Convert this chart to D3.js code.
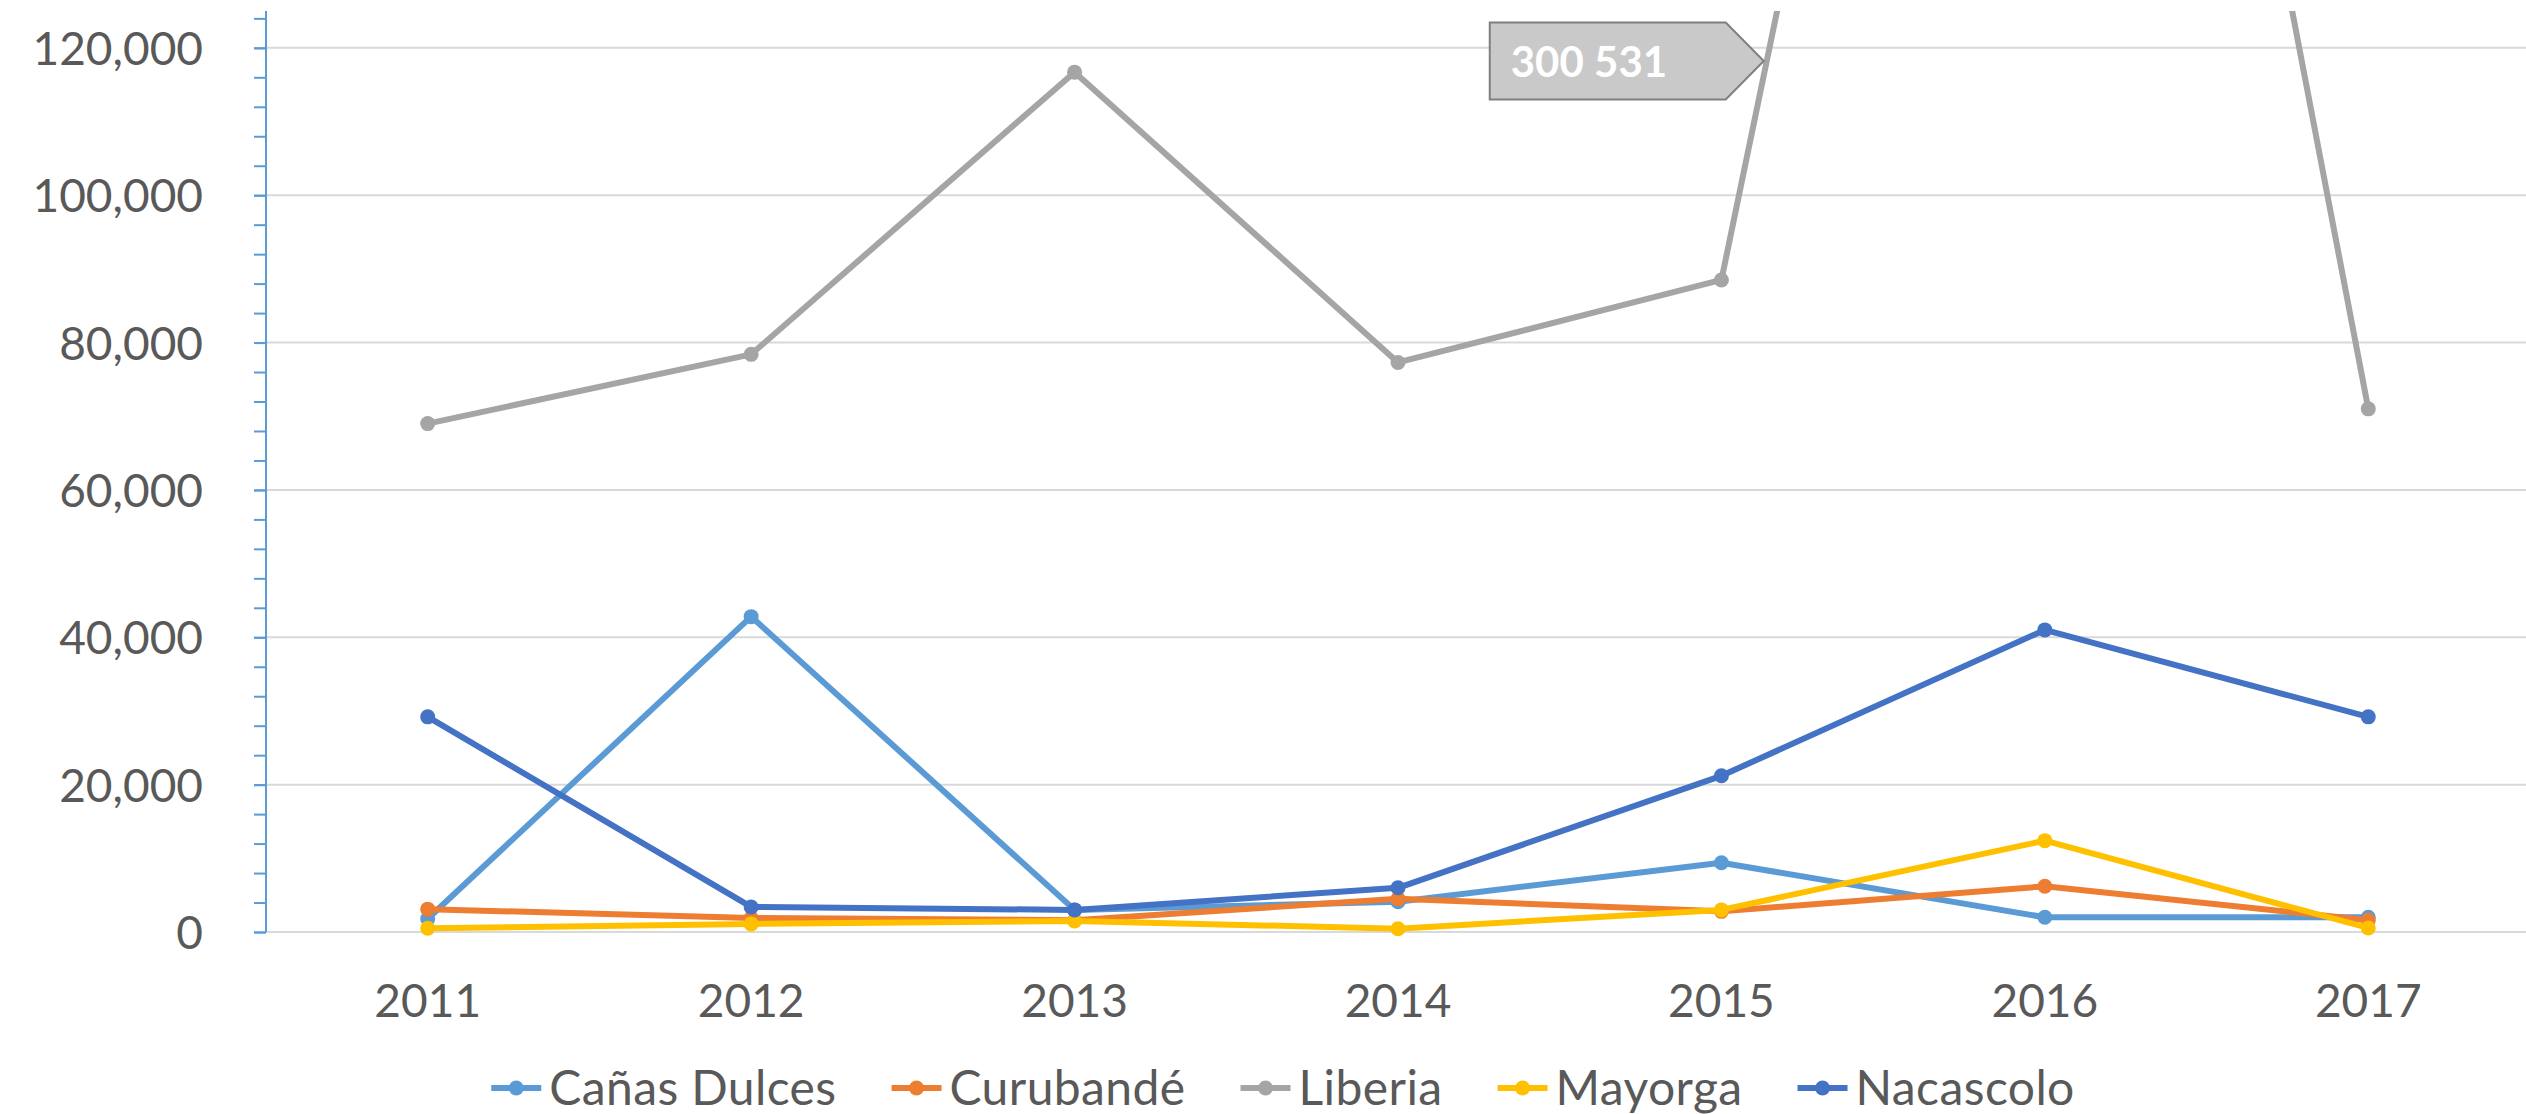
<!DOCTYPE html>
<html>
<head>
<meta charset="utf-8">
<script src="https://cdn.jsdelivr.net/npm/d3@7"></script>
<style>
  body { margin: 0; background: #fff; }
  text { font-family: Lato, "Open Sans", sans-serif; }
</style>
</head>
<body>
<script>
// Chart data
var years = ["2011", "2012", "2013", "2014", "2015", "2016", "2017"];
var seriesNames = ["Cañas Dulces", "Curubandé", "Liberia", "Mayorga", "Nacascolo"];
var canasDulces = [1800, 42800, 3000, 4100, 9400, 2000, 2000];
var curubande = [3100, 1900, 1600, 4500, 2800, 6200, 1600];
var liberia = [69000, 78400, 116700, 77300, 88500, 300531, 71000];
var mayorga = [500, 1100, 1500, 450, 3000, 12400, 550];
var nacascolo = [29200, 3400, 3000, 6000, 21200, 41000, 29200];
var yTicks = [0, 20000, 40000, 60000, 80000, 100000, 120000];
var calloutText = "300 531";

var seriesValues = [canasDulces, curubande, liberia, mayorga, nacascolo];
var seriesColors = ["#5b9bd5", "#ed7d31", "#a5a5a5", "#ffc000", "#4472c4"];

// Size of the SVG and plot area
var width = 2526,
    height = 1114;
var plot = { left: 266, right: 2530, top: 11, bottom: 932 };

var svg = d3.select("body")
    .append("svg")
    .attr("width", width)
    .attr("height", height);

// Scales
var x = d3.scalePoint()
    .domain(years)
    .range([plot.left, plot.right])
    .padding(0.5);

var y = d3.scaleLinear()
    .domain([0, 125000])
    .range([plot.bottom, plot.top]);

// Clip the lines to the plot area (Liberia 2016 goes off the top)
svg.append("clipPath")
    .attr("id", "plotClip")
  .append("rect")
    .attr("x", plot.left)
    .attr("y", plot.top)
    .attr("width", width - plot.left)
    .attr("height", plot.bottom - plot.top + 20);

// Gridlines
svg.append("g")
    .selectAll("line")
    .data(yTicks)
    .enter().append("line")
        .attr("x1", plot.left)
        .attr("x2", width)
        .attr("y1", function(d) { return y(d); })
        .attr("y2", function(d) { return y(d); })
        .attr("stroke", "#d9d9d9")
        .attr("stroke-width", 2);

// Minor ticks every 4,000
var minorAxis = svg.append("g")
    .attr("transform", "translate(" + plot.left + ",0)")
    .call(d3.axisLeft(y)
        .tickValues(d3.range(0, 125001, 4000))
        .tickSize(12)
        .tickFormat(""));
minorAxis.selectAll("line").attr("stroke", "#5b9bd5").attr("stroke-width", 2);
minorAxis.select(".domain").remove();

// Major y axis with labels
var yAxis = svg.append("g")
    .attr("transform", "translate(" + plot.left + ",0)")
    .call(d3.axisLeft(y)
        .tickValues(yTicks)
        .tickSize(12)
        .tickPadding(51)
        .tickFormat(d3.format(",")));
yAxis.select(".domain")
    .attr("stroke", "#5b9bd5")
    .attr("stroke-width", 2)
    .attr("d", "M0," + plot.top + "V" + plot.bottom);
yAxis.selectAll("line").attr("stroke", "#5b9bd5").attr("stroke-width", 2);
yAxis.selectAll("text")
    .attr("fill", "#595959")
    .attr("font-size", "46px")
    .attr("font-family", "Lato, sans-serif")
    .attr("dy", "0.36em");

// X axis labels (no axis line in the reference)
svg.append("g")
    .selectAll("text")
    .data(years)
    .enter().append("text")
        .attr("x", function(d) { return x(d); })
        .attr("y", 1017)
        .attr("text-anchor", "middle")
        .attr("fill", "#595959")
        .attr("font-size", "46px")
        .text(function(d) { return d; });

// Lines and markers
var line = d3.line()
    .x(function(d, i) { return x(years[i]); })
    .y(function(d) { return y(d); });

var seriesG = svg.append("g")
    .attr("clip-path", "url(#plotClip)");

seriesValues.forEach(function(vals, s) {
    seriesG.append("path")
        .datum(vals)
        .attr("fill", "none")
        .attr("stroke", seriesColors[s])
        .attr("stroke-width", 6)
        .attr("stroke-linejoin", "round")
        .attr("d", line);
    seriesG.selectAll(".dot" + s)
        .data(vals)
        .enter().append("circle")
            .attr("class", "dot" + s)
            .attr("cx", function(d, i) { return x(years[i]); })
            .attr("cy", function(d) { return y(d); })
            .attr("r", 7.5)
            .attr("fill", seriesColors[s]);
});

// Callout for the off-scale Liberia 2016 value, tip sits on the 2015-2016 segment
var tipY = 61;
var x0 = x(years[4]), y0 = y(liberia[4]);
var x1 = x(years[5]), y1 = y(liberia[5]);
var tipX = x0 + (x1 - x0) * (y0 - tipY) / (y0 - y1) - 3;
var boxW = 236, boxH = 77, arrowW = 38;
var boxL = tipX - arrowW - boxW;
svg.append("polygon")
    .attr("points", [
        [boxL, tipY - boxH / 2],
        [boxL + boxW, tipY - boxH / 2],
        [tipX, tipY],
        [boxL + boxW, tipY + boxH / 2],
        [boxL, tipY + boxH / 2]
    ].map(function(p) { return p.join(","); }).join(" "))
    .attr("fill", "#c9c9c9")
    .attr("stroke", "#7f7f7f")
    .attr("stroke-width", 2);
svg.append("text")
    .attr("x", boxL + 21)
    .attr("y", tipY + 16)
    .attr("fill", "#fff")
    .attr("font-size", "42px")
    .attr("font-weight", "bold")
    .text(calloutText);

// Legend, centred under the chart
var legend = svg.append("g");
var legendY = 1088;
var items = legend.selectAll("g")
    .data(seriesNames)
    .enter().append("g");
items.append("line")
    .attr("x1", 0).attr("x2", 50)
    .attr("y1", legendY).attr("y2", legendY)
    .attr("stroke", function(d, i) { return seriesColors[i]; })
    .attr("stroke-width", 6);
items.append("circle")
    .attr("cx", 25).attr("cy", legendY).attr("r", 7.5)
    .attr("fill", function(d, i) { return seriesColors[i]; });
items.append("text")
    .attr("x", 58)
    .attr("y", legendY + 17)
    .attr("fill", "#595959")
    .attr("font-size", "48px")
    .attr("letter-spacing", "0.4px")
    .text(function(d) { return d; });

var offset = 0, offsets = [];
items.each(function() {
    offsets.push(offset);
    offset += 58 + this.querySelector("text").getComputedTextLength() + 55;
});
var totalW = offset - 55;
var startX = 1283 - totalW / 2;
items.attr("transform", function(d, i) { return "translate(" + (startX + offsets[i]) + ",0)"; });
</script>
</body>
</html>
